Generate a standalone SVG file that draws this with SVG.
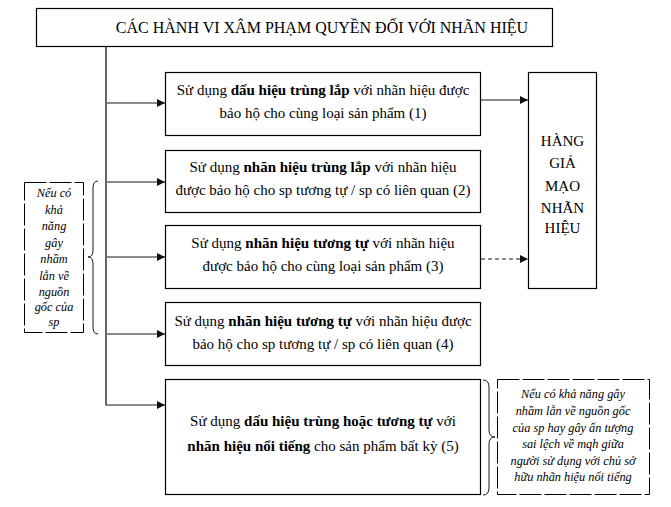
<svg xmlns="http://www.w3.org/2000/svg" width="671" height="507" viewBox="0 0 671 507">
<defs>
<style>
text{font-family:"Liberation Serif","Times New Roman",serif;fill:#000}
.box{fill:#fff;stroke:#000;stroke-width:1.2}
.t{font-size:15px;text-anchor:middle}
.b{font-weight:bold}
.it{font-size:12.3px;font-style:italic;text-anchor:middle}
.dash{fill:#fff;stroke:#000;stroke-width:1;stroke-dasharray:22 3}
.con{fill:none;stroke:#666;stroke-width:1.5}
.brace{fill:none;stroke:#000;stroke-width:0.9}
</style>
<marker id="ah" viewBox="0 0 10 10" refX="10" refY="5" markerWidth="8" markerHeight="8" markerUnits="userSpaceOnUse" orient="auto">
<path d="M0,0 L10,5 L0,10 z" fill="#111"/>
</marker>
</defs>
<rect width="671" height="507" fill="#fff"/>

<g id="connectors">
<line x1="106" y1="46" x2="106" y2="405.5" stroke="#000" stroke-width="1.2"/>
<line class="con" x1="106" y1="103" x2="165" y2="103" marker-end="url(#ah)"/>
<line class="con" x1="106" y1="182" x2="165" y2="182" marker-end="url(#ah)"/>
<line class="con" x1="106" y1="257" x2="165" y2="257" marker-end="url(#ah)"/>
<line class="con" x1="106" y1="334" x2="165" y2="334" marker-end="url(#ah)"/>
<line class="con" x1="106" y1="405" x2="165" y2="405" stroke="#222" stroke-width="1.2" marker-end="url(#ah)"/>
<line class="con" x1="481" y1="100" x2="528" y2="100" stroke="#888" marker-end="url(#ah)"/>
<line class="con" x1="481" y1="259" x2="528" y2="259" stroke="#777" stroke-dasharray="4 3" marker-end="url(#ah)"/>
</g>

<g id="title">
<rect class="box" x="36.5" y="8.5" width="516" height="38"/>
<text x="322" y="33" font-size="16" text-anchor="middle">CÁC HÀNH VI XÂM PHẠM QUYỀN ĐỐI VỚI NHÃN HIỆU</text>
</g>

<g id="n1">
<rect class="box" x="165.5" y="72.5" width="315" height="63"/>
<text class="t" x="323" y="95">Sử dụng <tspan class="b">dấu hiệu trùng lắp</tspan> với nhãn hiệu được</text>
<text class="t" x="323" y="118">bảo hộ cho cùng loại sản phẩm (1)</text>
</g>

<g id="n2">
<rect class="box" x="165.5" y="150.5" width="315" height="62"/>
<text class="t" x="323" y="172">Sử dụng <tspan class="b">nhãn hiệu trùng lắp</tspan> với nhãn hiệu</text>
<text class="t" x="323" y="195">được bảo hộ cho sp tương tự / sp có liên quan (2)</text>
</g>

<g id="n3">
<rect class="box" x="165.5" y="225.5" width="315" height="63"/>
<text class="t" x="323" y="248">Sử dụng <tspan class="b">nhãn hiệu tương tự</tspan> với nhãn hiệu</text>
<text class="t" x="323" y="271">được bảo hộ cho cùng loại sản phẩm (3)</text>
</g>

<g id="n4">
<rect class="box" x="165.5" y="302.5" width="315" height="63"/>
<text class="t" x="323" y="326">Sử dụng <tspan class="b">nhãn hiệu tương tự</tspan> với nhãn hiệu được</text>
<text class="t" x="323" y="349">bảo hộ cho sp tương tự / sp có liên quan (4)</text>
</g>

<g id="n5">
<rect class="box" x="165.5" y="379.5" width="315" height="115"/>
<text class="t" x="323" y="426">Sử dụng <tspan class="b">dấu hiệu trùng hoặc tương tự</tspan> với</text>
<text class="t" x="323" y="451"><tspan class="b">nhãn hiệu nổi tiếng</tspan> cho sản phẩm bất kỳ (5)</text>
</g>

<g id="hang-gia">
<rect class="box" x="528.5" y="72.5" width="68" height="216"/>
<text class="t" x="562.5" y="146">HÀNG</text>
<text class="t" x="562.5" y="168">GIẢ</text>
<text class="t" x="562.5" y="191">MẠO</text>
<text class="t" x="562.5" y="213">NHÃN</text>
<text class="t" x="562.5" y="233">HIỆU</text>
</g>

<g id="note-left">
<rect class="dash" x="24.5" y="182.5" width="59" height="150"/>
<path class="brace" d="M98,181 Q93,181 93,188 L93,250 Q93,257 88,257 Q93,257 93,264 L93,327 Q93,334 98,334"/>
<text class="it" x="54" y="197">Nếu có</text>
<text class="it" x="54" y="214">khả</text>
<text class="it" x="54" y="230">năng</text>
<text class="it" x="54" y="247">gây</text>
<text class="it" x="54" y="263">nhầm</text>
<text class="it" x="54" y="280">lẫn về</text>
<text class="it" x="54" y="296">nguồn</text>
<text class="it" x="54" y="311">gốc của</text>
<text class="it" x="54" y="326">sp</text>
</g>

<g id="note-right">
<path class="brace" d="M483,380 Q489,380 489,387 L489,430 Q489,437 495,437 Q489,437 489,444 L489,488 Q489,495 483,495"/>
<rect class="dash" x="497.5" y="379.5" width="152" height="115"/>
<text class="it" x="573" y="398">Nếu có khả năng gây</text>
<text class="it" x="573" y="415">nhầm lẫn về nguồn gốc</text>
<text class="it" x="573" y="432">của sp hay gây ấn tượng</text>
<text class="it" x="573" y="448">sai lệch về mqh giữa</text>
<text class="it" x="573" y="465">người sử dụng với chủ sở</text>
<text class="it" x="573" y="481">hữu nhãn hiệu nổi tiếng</text>
</g>
</svg>
